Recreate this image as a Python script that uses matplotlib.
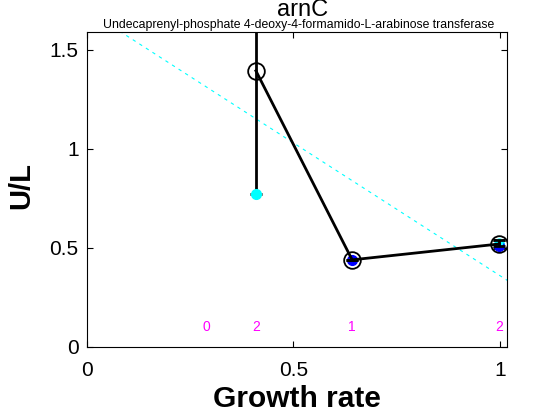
import matplotlib
matplotlib.use('Agg')
import matplotlib.pyplot as plt
import numpy as np

plt.rcParams['font.family'] = ['Liberation Sans', 'DejaVu Sans']

# data
growth = [0.409, 0.642, 0.998]
ul_fit = [1.394, 0.44, 0.52]          # black open circles + line
cyan_x = [0.409, 0.998]
cyan_y = [0.773, 0.52]
cyan_err_lo = [0.0, 0.02]
cyan_err_hi = [1.2, 0.02]
blue_x = [0.642, 0.998]
blue_y = [0.44, 0.51]
count_x = [0.29, 0.409, 0.642, 0.998]
count_lbl = ['0', '2', '1', '2']
trend_slope = -1.34
trend_icpt = 1.70

fig = plt.figure(figsize=(5.6, 4.2), dpi=100)
ax = fig.add_axes([87/560, 73/420, 420/560, 315/420])

xx = np.array([0.0, 1.02])
ax.plot(xx, trend_icpt + trend_slope*xx, '--', color='cyan', lw=0.8, dashes=(3, 4))

ax.errorbar(cyan_x, cyan_y, yerr=[cyan_err_lo, cyan_err_hi], fmt='none', ecolor='k',
            elinewidth=2, capsize=4, capthick=2)
ax.plot(cyan_x, cyan_y, 'o', color='cyan', ms=7, mec='cyan')
ax.plot(blue_x, blue_y, 'o', color='blue', ms=7, mec='blue')
ax.plot(cyan_x[1:], [0.53], 'o', color='cyan', ms=5, mec='cyan')
ax.errorbar(blue_x, blue_y, yerr=[[0.0, 0.0], [0.0, 0.03]], fmt='none', ecolor='k',
            elinewidth=2, capsize=4, capthick=2)
ax.plot(growth, ul_fit, '-', color='k', lw=2)
ax.plot(growth, ul_fit, 'o', mfc='none', mec='k', ms=12, mew=1.3)

for x, s in zip(count_x, count_lbl):
    ax.text(x, 0.1, s, color='magenta', fontsize=10, ha='center', va='center')

ax.set_xlim(0, 1.017)
ax.set_ylim(0, 1.59)
ax.set_xticks([0, 0.5, 1])
ax.set_xticklabels(['0', '0.5', '1'])
ax.set_yticks([0, 0.5, 1, 1.5])
ax.set_yticklabels(['0', '0.5', '1', '1.5'])
ax.tick_params(labelsize=15, direction='in', length=4, top=True, right=True)
ax.tick_params(axis='x', pad=10)
ax.tick_params(axis='y', pad=6)
ax.set_xlabel('Growth rate', fontsize=21.5, fontweight='bold', labelpad=4)
ax.set_ylabel('U/L', fontsize=21, fontweight='bold', va='center')
ax.yaxis.set_label_coords(-0.156, 0.514)

fig.text(0.54, 1 - 16/420, 'arnC', fontsize=17, ha='center', va='baseline')
fig.text(0.533, 1 - 28/420, 'Undecaprenyl-phosphate 4-deoxy-4-formamido-L-arabinose transferase',
         fontsize=8.8, ha='center', va='baseline')

fig.savefig('out.png', dpi=100)
